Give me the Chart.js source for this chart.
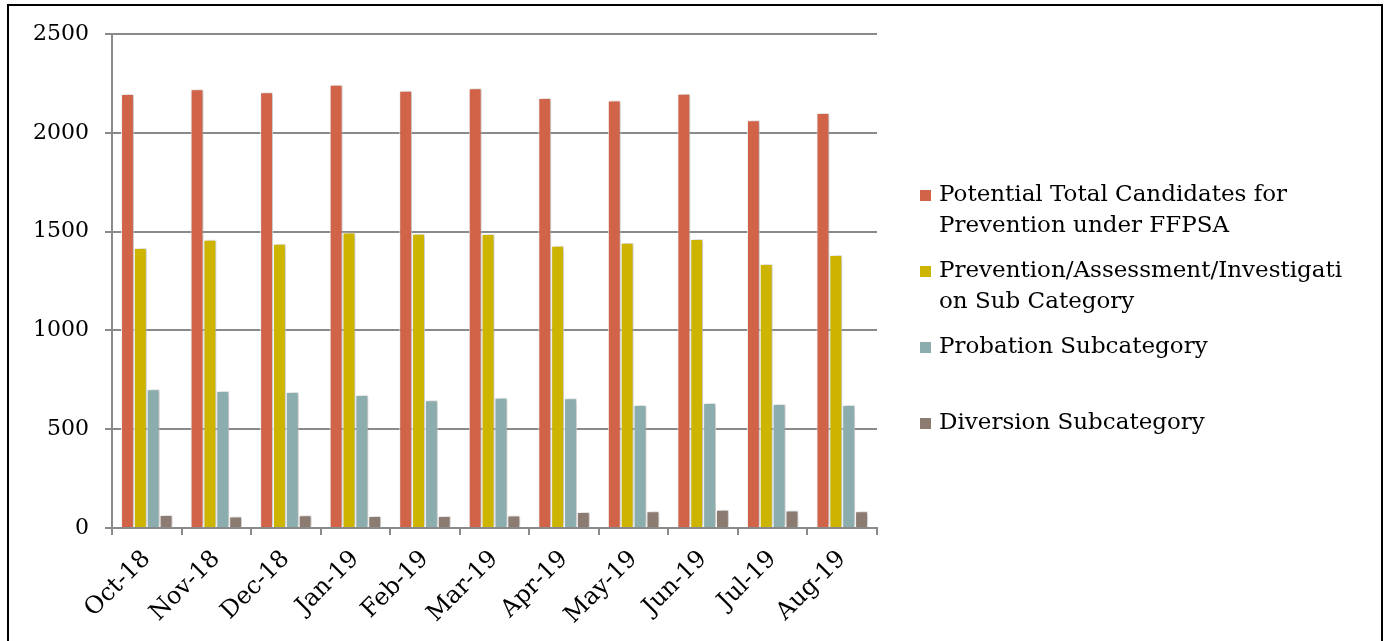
<!DOCTYPE html>
<html>
<head>
<meta charset="utf-8">
<script src="https://cdn.jsdelivr.net/npm/chart.js@4.4.1/dist/chart.umd.min.js"></script>
<style>
  html, body { margin: 0; padding: 0; background: #ffffff; }
  #wrap { position: absolute; left: 0; top: 0; width: 1384px; height: 641px; }
</style>
</head>
<body>
<div id="wrap"><canvas id="chart" width="1384" height="641"></canvas></div>
<script>
// Monthly counts, Oct 2018 - Aug 2019
const months = ["Oct-18", "Nov-18", "Dec-18", "Jan-19", "Feb-19", "Mar-19", "Apr-19", "May-19", "Jun-19", "Jul-19", "Aug-19"];
const potentialTotal = [2196, 2220, 2205, 2243, 2213, 2225, 2176, 2163, 2198, 2063, 2100];
const preventionAssessment = [1417, 1459, 1439, 1496, 1489, 1488, 1429, 1444, 1462, 1336, 1382];
const probation = [702, 693, 688, 673, 647, 659, 656, 622, 632, 627, 622];
const diversion = [66, 58, 64, 61, 61, 63, 81, 85, 92, 88, 85];
const yTicks = [0, 500, 1000, 1500, 2000, 2500];

const seriesNames = [
  ["Potential Total Candidates for", "Prevention under FFPSA"],
  ["Prevention/Assessment/Investigati", "on Sub Category"],
  ["Probation Subcategory"],
  ["Diversion Subcategory"]
];
const seriesColors = ["#D16349", "#CCB400", "#8CADAE", "#8C7B70"];
const seriesData = [potentialTotal, preventionAssessment, probation, diversion];

const FONT = "'DejaVu Serif', 'Liberation Serif', serif";
const AXIS_GRAY = "#8a8a8a";

// soft drop shadow behind every bar
const barShadow = {
  id: "barShadow",
  beforeDatasetsDraw(chart) {
    const ctx = chart.ctx;
    ctx.save();
    ctx.shadowColor = "rgba(0,0,0,0.28)";
    ctx.shadowBlur = 5;
    ctx.shadowOffsetX = 2;
    ctx.shadowOffsetY = 0;
  },
  afterDatasetsDraw(chart) {
    chart.ctx.restore();
  }
};

// legend block to the right of the plot, with wrapped names
const sideLegend = {
  id: "sideLegend",
  afterDraw(chart) {
    const ctx = chart.ctx;
    const area = chart.chartArea;
    const boxX = area.right + 43;
    const textX = area.right + 62;
    const firstY = 195;
    const itemStep = 76;
    const lineStep = 31;
    ctx.save();
    ctx.font = "23px " + FONT;
    ctx.textBaseline = "middle";
    ctx.textAlign = "left";
    seriesNames.forEach((lines, i) => {
      const y = firstY + i * itemStep;
      ctx.fillStyle = seriesColors[i];
      ctx.fillRect(boxX, y - 5, 11, 11);
      ctx.fillStyle = "#000000";
      lines.forEach((t, j) => ctx.fillText(t, textX, y + j * lineStep));
    });
    ctx.restore();
  }
};

// thin black frame round the whole figure
const frame = {
  id: "frame",
  afterDraw(chart) {
    const ctx = chart.ctx;
    ctx.save();
    ctx.strokeStyle = "#000000";
    ctx.lineWidth = 2;
    ctx.strokeRect(8, 5, 1374, 700);
    ctx.restore();
  }
};

new Chart(document.getElementById("chart"), {
  type: "bar",
  data: {
    labels: months,
    datasets: seriesData.map((d, i) => ({
      label: seriesNames[i].join(" "),
      data: d,
      backgroundColor: seriesColors[i],
      borderColor: "rgba(255,255,255,0.85)",
      borderWidth: 1,
      categoryPercentage: 0.74,
      barPercentage: 1.0
    }))
  },
  options: {
    responsive: false,
    animation: false,
    devicePixelRatio: 1,
    layout: { padding: { left: 0, right: 507, top: 34, bottom: 0 } },
    plugins: {
      legend: { display: false },
      tooltip: { enabled: false }
    },
    scales: {
      x: {
        offset: true,
        grid: {
          display: true,
          offset: true,
          drawOnChartArea: false,
          drawTicks: true,
          tickLength: 7,
          color: AXIS_GRAY,
          lineWidth: 2
        },
        border: { display: true, color: AXIS_GRAY, width: 2 },
        ticks: {
          color: "#000000",
          font: { family: FONT, size: 24 },
          maxRotation: 45,
          minRotation: 45,
          padding: 10,
          autoSkip: false
        },
        afterFit(scale) { scale.height = 641 - 528; }
      },
      y: {
        min: 0,
        max: 2500,
        afterBuildTicks(scale) { scale.ticks = yTicks.map(v => ({ value: v })); },
        grid: {
          color: AXIS_GRAY,
          lineWidth: 2,
          drawTicks: true,
          tickLength: 7
        },
        border: { display: true, color: AXIS_GRAY, width: 2 },
        ticks: {
          color: "#000000",
          font: { family: FONT, size: 22 },
          padding: 16,
          callback: (v) => String(v)
        },
        afterFit(scale) { scale.width = 112; }
      }
    }
  },
  plugins: [barShadow, sideLegend, frame]
});
</script>
</body>
</html>
